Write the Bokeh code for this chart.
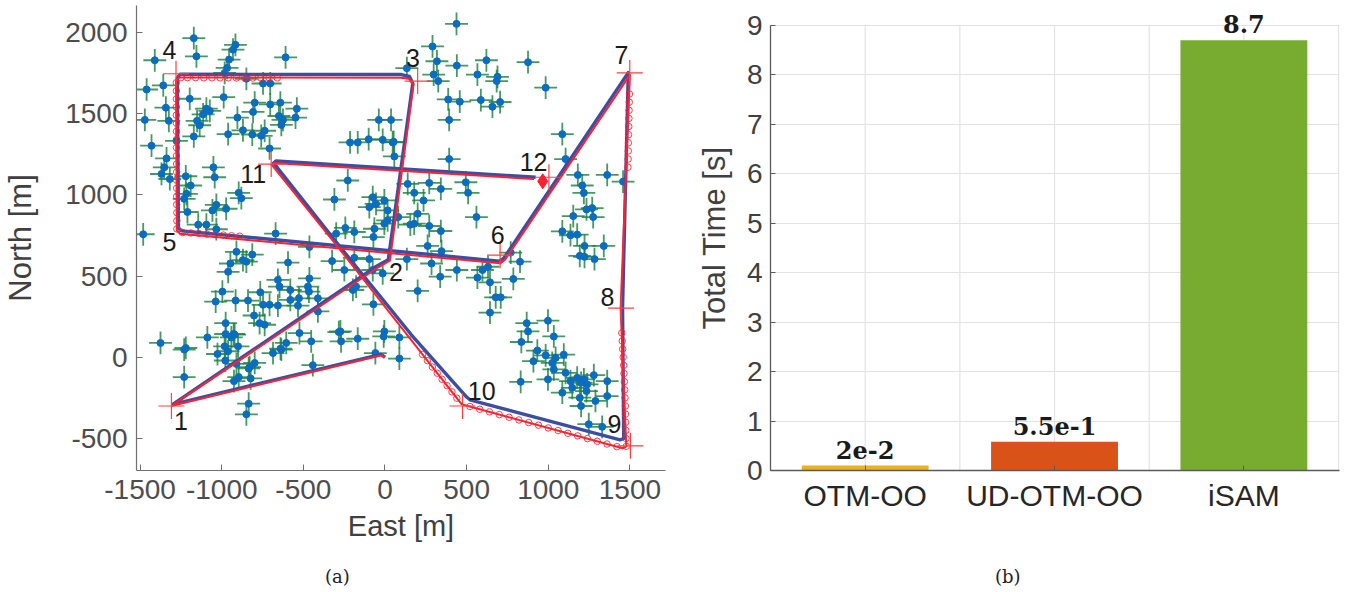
from bokeh.plotting import figure
from bokeh.models import Range1d, FixedTicker, LabelSet, ColumnDataSource, Div
from bokeh.layouts import row, column
from bokeh.embed import file_html
from bokeh.resources import INLINE
from bokeh.core.properties import value

# ---------------- (a) trajectory data (metres) ----------------
true_east = [0, -25, -1300, -60, 20, 170, 150, 100, -1255, -1272, -1265, -1245, 700, 728,
             1490, 1455, 1462, 1440, 520, 500, 160, -300, -682, -668, 923]
true_north = [0, 18, -290, 555, 600, 1685, 1728, 1740, 1742, 1720, 795, 778, 592, 610,
              1752, 305, -500, -508, -262, -245, 140, 710, 1195, 1208, 1108]

est_east = [0, -20, -1305, -55, 30, 175, 145, 95, -1260, -1280, -1275, -1255, 705, 735,
            1500, 1443, 1478, 1455, 490, 470, 150, -305, -695, -680, 913]
est_north = [0, 12, -298, 545, 595, 1680, 1715, 1720, 1722, 1700, 780, 760, 578, 600,
             1738, 300, -548, -560, -295, -290, 120, 700, 1185, 1195, 1097]

# covariance ellipses drawn on the estimate
ellipse_east = [-660, -710, -760, -810, -860, -910, -960, -1010, -1060, -1110, -1160, -1210, -1250,
                -1278, -1278, -1278, -1278, -1278, -1277, -1277, -1277, -1277, -1277, -1276, -1276,
                -1276, -1276, -1276, -1276, -1275, -1275, -1275,
                -1240, -1190, -1140, -1090, -1040, -990, -940, -890,
                1497, 1496, 1495, 1494, 1493, 1492, 1491, 1490, 1489, 1488,
                1450, 1453, 1456, 1459, 1462, 1464, 1466, 1468, 1470, 1472, 1473, 1474, 1475, 1476, 1478,
                1420, 1360, 1300, 1240, 1180, 1120, 1060, 1000, 940, 880, 820, 760, 700, 640, 580, 520,
                440, 410, 380, 350, 320, 290, 260, 230]
ellipse_north = [1719, 1719, 1719, 1719, 1719, 1719, 1720, 1720, 1720, 1720, 1721, 1721, 1721,
                 1690, 1640, 1590, 1540, 1490, 1440, 1390, 1340, 1290, 1240, 1190, 1140,
                 1090, 1040, 990, 940, 890, 840, 790,
                 768, 765, 762, 758, 755, 752, 748, 745,
                 1620, 1570, 1520, 1470, 1420, 1370, 1320, 1270, 1220, 1170,
                 150, 100, 50, 0, -50, -100, -150, -200, -250, -300, -350, -400, -450, -500, -548,
                 -550, -534, -517, -501, -484, -468, -451, -435, -418, -402, -386, -369, -353, -336, -320, -303,
                 -252, -213, -175, -136, -98, -60, -21, 17]

waypoint_east = [-1308, 200, -1280, 705, 1499, 1446, 1503, 475, -697, 1004]
waypoint_north = [-300, 1700, 1745, 628, 1750, 302, -545, -300, 1189, 1108]
final_east = [966]
final_north = [1083]

wp_labels = ["1", "2", "3", "4", "5", "6", "7", "8", "9", "10", "11", "12"]
wp_label_east = [-1250, 67, 171, -1320, -1320, 690, 1448, 1362, 1405, 592, -807, 910]
wp_label_north = [-395, 526, 1842, 1891, 710, 753, 1860, 373, -410, -208, 1126, 1200]

landmarks = [
    (-1171, 1964), (-916, 1923), (-931, 1893), (-1410, 1828), (-1155, 1852), (-955, 1832), (-609, 1846),
    (-967, 1781), (-982, 1750), (-1460, 1648), (-1358, 1673), (-1196, 1591), (-988, 1601), (-849, 1714),
    (-747, 1685), (-703, 1685), (-798, 1567), (-703, 1556), (-641, 1567), (-1094, 1530), (-1073, 1516),
    (-1114, 1495), (-1342, 1536), (-1471, 1461), (-1324, 1455), (-1151, 1455), (-1135, 1428), (-808, 1510),
    (-904, 1475), (-650, 1485), (-625, 1461), (-635, 1430), (-540, 1530), (-548, 1475), (-870, 1397),
    (-813, 1371), (-758, 1363), (-737, 1394), (-961, 1373), (-1171, 1359), (-1430, 1302), (-1277, 1332),
    (-707, 1285), (-1338, 1224), (-38, 1461), (-214, 1322), (-167, 1322), (-100, 1342), (-14, 1338),
    (-1481, 757), (-1352, 1169), (-1318, 1097), (-1230, 975), (-1210, 894), (-1190, 1057), (-1051, 1169),
    (-1043, 1108), (-896, 1012), (-880, 979), (-1057, 904), (-1033, 938), (-973, 914), (-310, 971),
    (-1220, 1114), (-1216, 1006), (-1369, 1128), (-1144, 816), (-1094, 816), (-1033, 788), (-670, 761),
    (-910, 649), (-813, 632), (-870, 598), (-849, 588), (-947, 577), (-961, 526), (-594, 583), (-656, 476),
    (-646, 435), (-580, 414), (-463, 485), (-472, 435), (-466, 404), (-996, 404), (-1037, 343), (-915, 349),
    (-839, 349), (-764, 400), (-747, 323), (-707, 323), (-656, 318), (-580, 353), (-527, 363), (-533, 318),
    (-411, 363), (-411, 282), (-802, 257), (-768, 210), (-737, 200), (-976, 210), (-976, 143), (-927, 143),
    (-1088, 122), (-982, 67), (-1026, 20), (-961, 37), (-1220, 57), (-1375, 88), (-910, -41), (-829, -61),
    (-605, 88), (-635, 47), (-686, 26), (-524, 149), (-452, 98), (-283, 155), (-269, 98), (-167, 114),
    (-59, 26), (-228, 1088), (-75, 985), (-55, 944), (-4, 965), (-243, 796), (-299, 761), (-65, 791),
    (-71, 740), (-4, 822), (-463, 679), (-324, 592), (-249, 537), (-188, 612), (-96, 604), (-177, 435),
    (-197, 414), (-71, 326), (-4, 159),
    (57, 1236), (393, 1220), (271, 1073), (342, 1036), (179, 1012), (236, 965), (495, 1077), (509, 1012),
    (560, 863), (200, 883), (81, 863), (16, 843), (155, 816), (271, 808), (342, 777), (261, 685), (346, 653),
    (134, 604), (285, 577), (338, 496), (440, 537), (597, 537), (631, 557), (566, 490), (643, 461),
    (786, 482), (827, 588), (770, 644), (678, 369), (709, 369), (643, 275), (200, 408), (1181, 1122),
    (1361, 1122), (1458, 1081), (1208, 1057), (1218, 1012), (1269, 918), (1234, 910), (1275, 863),
    (1153, 869), (1086, 775), (1136, 751), (1177, 755), (1222, 685), (1340, 685), (1193, 624), (1222, 618),
    (1283, 604), (868, 210), (876, 159), (998, 225), (1034, 128), (835, 94), (933, 41), (984, 12), (1095, 16),
    (1045, -4), (909, -24), (1024, -35), (88, -8), (-8, 128), (88, 122),
    (438, 2052), (291, 1913), (318, 1822), (440, 1795), (621, 1828), (876, 1816), (134, 1779), (298, 1740),
    (326, 1700), (566, 1740), (689, 1726), (684, 1700), (984, 1659), (387, 1587), (458, 1573), (587, 1583),
    (658, 1542), (705, 1571), (393, 1461), (1086, 1373), (37, 1461), (53, 1326),
    (1106, 1220), (47, 1322), (-96, 924), (16, 904), (139, 1067), (179, 822), (-188, 771), (-75, 537),
    (-14, 516),
    (-1230, -122), (-941, 122), (-921, 139), (-900, 67), (-978, -20), (-925, -147), (-896, -122),
    (-835, -69), (-823, -130), (-835, -286), (-849, -351), (-798, -35), (-640, 53), (-442, -49), (-1230, 47),
    (-273, 159), (1034, -75), (998, -136), (1106, -96), (1136, -147), (1147, -188), (1177, -126),
    (1201, -157), (1218, -136), (1238, -167), (1279, -110), (1361, -147), (1234, -208), (1193, -249),
    (1201, -300), (1289, -269), (1361, -239), (1086, -218), (831, -151), (1248, -412), (1330, -428),
]
landmark_sigma = 70

east_ticks = [-1500, -1000, -500, 0, 500, 1000, 1500]
north_ticks = [-500, 0, 500, 1000, 1500, 2000]

# ---------------- (b) timing data ----------------
methods = ["OTM-OO", "UD-OTM-OO", "iSAM"]
total_time = [0.1, 0.58, 8.7]
time_labels = ["2e-2", "5.5e-1", "8.7"]
bar_colors = ["#EDB120", "#D95319", "#77AC30"]
time_ticks = [0, 1, 2, 3, 4, 5, 6, 7, 8, 9]

SANS = "Liberation Sans"
RED = "#ff2030"
BLUE_TRAJ = "#3c4ea3"
LM_GREEN = "#17803a"
FIG_H = 565

# ================= panel (a) =================
p1 = figure(width=690, height=FIG_H, x_range=Range1d(-1522, 1718), y_range=Range1d(-697, 2165),
            output_backend="svg", toolbar_location=None, title=None,
            min_border_left=135, min_border_right=25, min_border_top=2, min_border_bottom=FIG_H - 470)
p1.outline_line_color = None
p1.xgrid.visible = False
p1.ygrid.visible = False
p1.background_fill_color = "white"
p1.border_fill_color = "white"
for ax in (p1.xaxis, p1.yaxis):
    ax.axis_line_color = "#707070"
    ax.axis_line_width = 1.2
    ax.major_tick_line_color = "#707070"
    ax.major_tick_in = 6
    ax.major_tick_out = 0
    ax.minor_tick_line_color = None
    ax.major_label_text_font = SANS
    ax.major_label_text_font_size = "28px"
    ax.major_label_text_color = "#4d4d4d"
    ax.major_label_standoff = 9
    ax.axis_label_text_font = SANS
    ax.axis_label_text_font_style = "normal"
    ax.axis_label_text_color = "#404040"
p1.xaxis.ticker = FixedTicker(ticks=east_ticks)
p1.yaxis.ticker = FixedTicker(ticks=north_ticks)
p1.xaxis.major_label_overrides = {t: str(t) for t in east_ticks}
p1.yaxis.major_label_overrides = {t: str(t) for t in north_ticks}
p1.xaxis.axis_label = "East [m]"
p1.yaxis.axis_label = "North [m]"
p1.xaxis.axis_label_text_font_size = "29px"
p1.yaxis.axis_label_text_font_size = "31px"
p1.xaxis.axis_label_standoff = 8
p1.yaxis.axis_label_standoff = 24

lm_e = [e for e, n in landmarks]
lm_n = [n for e, n in landmarks]
lm_src = ColumnDataSource(dict(
    x0=[e - landmark_sigma for e in lm_e], x1=[e + landmark_sigma for e in lm_e],
    y0=[n - landmark_sigma for n in lm_n], y1=[n + landmark_sigma for n in lm_n],
    e=lm_e, n=lm_n))
p1.segment(x0="x0", y0="n", x1="x1", y1="n", source=lm_src, line_color=LM_GREEN, line_alpha=0.8, line_width=1.8)
p1.segment(x0="e", y0="y0", x1="e", y1="y1", source=lm_src, line_color=LM_GREEN, line_alpha=0.8, line_width=1.8)
p1.scatter(x="e", y="n", source=lm_src, marker="circle", size=7, fill_color="#0b6dbf", line_color="#0b6dbf")

p1.line(true_east, true_north, line_color=BLUE_TRAJ, line_width=3.4, line_join="round")
p1.line(est_east, est_north, line_color=RED, line_width=2.0, line_join="round")
p1.scatter(ellipse_east, ellipse_north, marker="circle", size=6.5, fill_color=None,
           line_color=RED, line_alpha=0.85, line_width=1)
p1.scatter(waypoint_east, waypoint_north, marker="cross", size=26, line_color="#ff4040", line_width=1.2)
p1.scatter(final_east, final_north, marker="diamond", size=15, fill_color=RED, line_color=RED)

wp_src = ColumnDataSource(dict(x=wp_label_east, y=wp_label_north, t=wp_labels))
p1.add_layout(LabelSet(x="x", y="y", text="t", source=wp_src, text_font=value(SANS),
                       text_font_size=value("25px"), text_color="#1a1a1a",
                       text_align="center", text_baseline="middle"))

# ================= panel (b) =================
p2 = figure(width=657, height=FIG_H, x_range=Range1d(0.5, 3.505), y_range=Range1d(0, 9.4),
            output_backend="svg", toolbar_location=None, title=None,
            min_border_left=80, min_border_right=8, min_border_top=5, min_border_bottom=FIG_H - 474)
p2.outline_line_color = None
p2.background_fill_color = "white"
p2.border_fill_color = "white"
p2.xgrid.visible = False
p2.ygrid.ticker = FixedTicker(ticks=time_ticks[1:])
p2.ygrid.grid_line_color = "#e3e3e3"
p2.ygrid.grid_line_width = 1.2
grid_x = [1, 1.5, 2, 2.5, 3, 3.5]
p2.segment(x0=grid_x, y0=[0] * len(grid_x), x1=grid_x, y1=[time_ticks[-1]] * len(grid_x),
           line_color="#e3e3e3", line_width=1.2)
for ax in (p2.xaxis, p2.yaxis):
    ax.axis_line_color = "#5a5a5a"
    ax.axis_line_width = 1.3
    ax.major_tick_line_color = "#5a5a5a"
    ax.major_tick_in = 5
    ax.major_tick_out = 0
    ax.minor_tick_line_color = None
    ax.major_label_text_font = SANS
    ax.major_label_standoff = 8
    ax.axis_label_text_font = SANS
    ax.axis_label_text_font_style = "normal"
    ax.axis_label_text_color = "#404040"
p2.yaxis.ticker = FixedTicker(ticks=time_ticks)
p2.yaxis.bounds = (0, 9)
p2.yaxis.major_label_text_font_size = "28px"
p2.yaxis.major_label_text_color = "#404040"
p2.yaxis.axis_label = "Total Time [s]"
p2.yaxis.axis_label_text_font_size = "31px"
p2.yaxis.axis_label_standoff = 12
p2.xaxis.ticker = FixedTicker(ticks=[1, 2, 3])
p2.xaxis.major_label_overrides = {1: methods[0], 2: methods[1], 3: methods[2]}
p2.xaxis.major_label_text_font_size = "30px"
p2.xaxis.major_label_text_color = "#262626"

bar_src = ColumnDataSource(dict(x=[1, 2, 3], top=total_time, color=bar_colors, lab=time_labels,
                                ly=[t + 0.14 for t in total_time]))
p2.vbar(x="x", top="top", width=0.67, bottom=0, source=bar_src, fill_color="color", line_color=None)
p2.add_layout(LabelSet(x="x", y="ly", text="lab", source=bar_src, text_font=value("DejaVu Serif"),
                       text_font_style="bold", text_font_size=value("24px"), text_color="#1a1a1a",
                       text_align="center", text_baseline="bottom"))

# ================= sub-captions =================
CAP_STYLE = "font-family:'DejaVu Serif';font-size:18px;color:#222222;line-height:24px;"
cap_a = Div(text=f'<div style="{CAP_STYLE}padding-left:325px;">(a)</div>', width=690, height=27, margin=0)
cap_b = Div(text=f'<div style="{CAP_STYLE}padding-left:305px;">(b)</div>', width=657, height=27, margin=0)

layout = column(row(p1, p2), row(cap_a, cap_b))
open("out.html", "w").write(file_html(layout, INLINE))
